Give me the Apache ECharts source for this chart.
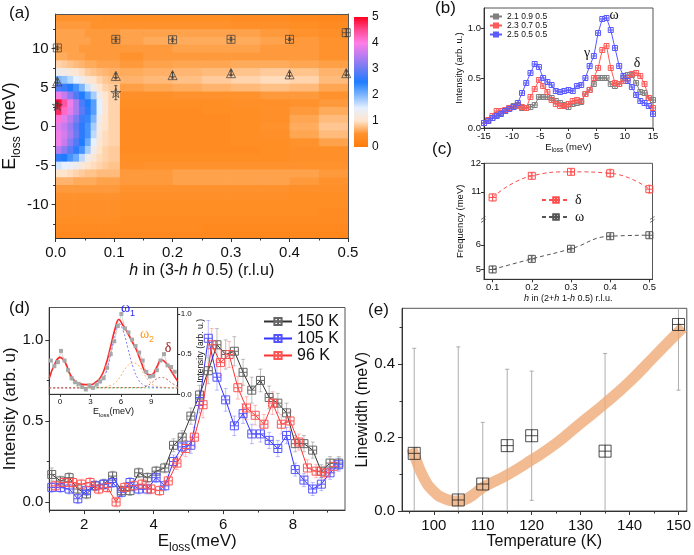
<!DOCTYPE html>
<html><head><meta charset="utf-8">
<script src="https://cdn.jsdelivr.net/npm/echarts@6/dist/echarts.min.js"></script>
<style>html,body{margin:0;padding:0;background:#fff}#c{width:694px;height:555px}</style>
</head><body><div id="c"></div>
<script>
// ================= DATA =================
// (a) intensity map: column centres (h), row centres (E, meV), values
const hmX = [0.005,0.015,0.025,0.035,0.045,0.055,0.065,0.075,0.085,0.095,0.125,0.175,0.225,0.275,0.325,0.375,0.425,0.475];
const hmY = [14,13,12,11,10,9,8,7,6,5,4,3,2,1,0,-1,-2,-3,-4,-5,-6,-7,-8,-9,-10,-11,-12,-13,-14];
const hmZ = [
 [0.5,0.5,0.5,0.5,0.5,0.5,0.5,0.5,0.45,0.45, 0.4,0.4,0.4,0.4,0.35,0.35,0.3,0.25],
 [0.55,0.55,0.55,0.55,0.55,0.55,0.5,0.5,0.5,0.5, 0.5,0.5,0.5,0.5,0.45,0.45,0.4,0.35],
 [0.6,0.6,0.6,0.6,0.6,0.55,0.55,0.55,0.55,0.55, 0.6,0.6,0.6,0.6,0.6,0.55,0.5,0.45],
 [0.6,0.6,0.6,0.6,0.6,0.6,0.55,0.55,0.55,0.55, 0.6,0.65,0.65,0.65,0.65,0.6,0.55,0.5],
 [0.6,0.6,0.6,0.6,0.55,0.55,0.55,0.55,0.55,0.55, 0.55,0.55,0.6,0.6,0.6,0.55,0.55,0.5],
 [0.65,0.65,0.6,0.6,0.6,0.55,0.55,0.55,0.55,0.55, 0.5,0.55,0.55,0.55,0.55,0.55,0.55,0.5],
 [0.9,0.85,0.8,0.75,0.7,0.65,0.65,0.6,0.6,0.6, 0.55,0.6,0.62,0.62,0.65,0.65,0.62,0.58],
 [1.3,1.25,1.15,1.05,0.95,0.85,0.8,0.75,0.72,0.68, 0.65,0.68,0.72,0.75,0.8,0.85,0.8,0.7],
 [2.0,1.9,1.7,1.5,1.3,1.1,1.0,0.9,0.82,0.78, 0.7,0.74,0.78,0.85,0.9,0.95,0.9,0.75],
 [2.8,2.7,2.5,2.3,2.0,1.6,1.3,1.05,0.9,0.85, 0.58,0.62,0.66,0.7,0.74,0.78,0.74,0.62],
 [3.9,3.6,3.2,2.8,2.5,2.2,1.8,1.3,1.0,0.9, 0.45,0.45,0.5,0.5,0.5,0.55,0.55,0.5],
 [4.9,4.4,3.9,3.4,2.8,2.5,2.2,1.5,1.05,0.9, 0.4,0.4,0.4,0.4,0.45,0.45,0.5,0.55],
 [4.7,4.2,3.8,3.4,2.9,2.6,2.2,1.5,1.05,0.9, 0.35,0.35,0.35,0.4,0.4,0.45,0.55,0.65],
 [4.1,3.8,3.5,3.1,2.7,2.4,2.0,1.3,1.0,0.9, 0.35,0.35,0.35,0.35,0.4,0.45,0.62,0.75],
 [3.8,3.6,3.3,2.9,2.6,2.3,1.8,1.2,1.0,0.9, 0.35,0.35,0.35,0.35,0.4,0.5,0.66,0.82],
 [3.9,3.7,3.4,3.0,2.6,2.3,1.7,1.15,0.95,0.9, 0.35,0.35,0.35,0.35,0.4,0.45,0.62,0.75],
 [3.9,3.6,3.2,2.8,2.5,2.1,1.5,1.1,0.95,0.9, 0.35,0.35,0.35,0.35,0.4,0.4,0.5,0.6],
 [3.5,3.2,2.9,2.6,2.3,1.8,1.3,1.0,0.9,0.85, 0.35,0.35,0.35,0.35,0.35,0.4,0.45,0.45],
 [2.6,2.5,2.3,2.1,1.7,1.3,1.1,0.95,0.9,0.85, 0.4,0.4,0.4,0.4,0.4,0.4,0.45,0.45],
 [1.6,1.5,1.4,1.3,1.15,1.0,0.95,0.9,0.85,0.8, 0.45,0.5,0.5,0.5,0.5,0.5,0.5,0.5],
 [1.0,1.0,0.95,0.9,0.85,0.8,0.8,0.75,0.75,0.75, 0.55,0.55,0.6,0.6,0.6,0.6,0.6,0.55],
 [0.7,0.7,0.7,0.65,0.65,0.65,0.65,0.6,0.6,0.6, 0.55,0.55,0.6,0.6,0.6,0.6,0.55,0.5],
 [0.55,0.55,0.55,0.55,0.55,0.55,0.55,0.55,0.55,0.55, 0.5,0.5,0.5,0.5,0.5,0.5,0.45,0.45],
 [0.5,0.5,0.5,0.5,0.5,0.5,0.5,0.5,0.5,0.5, 0.45,0.45,0.45,0.45,0.45,0.45,0.4,0.4],
 [0.45,0.45,0.45,0.45,0.45,0.45,0.45,0.45,0.45,0.45, 0.4,0.4,0.4,0.4,0.4,0.4,0.4,0.4],
 [0.45,0.45,0.45,0.45,0.45,0.45,0.45,0.45,0.45,0.45, 0.4,0.4,0.4,0.4,0.4,0.4,0.4,0.35],
 [0.4,0.4,0.4,0.4,0.4,0.4,0.4,0.4,0.4,0.4, 0.35,0.35,0.35,0.35,0.35,0.35,0.35,0.35],
 [0.35,0.35,0.35,0.35,0.35,0.35,0.35,0.35,0.35,0.35, 0.35,0.35,0.35,0.3,0.3,0.3,0.3,0.3],
 [0.3,0.3,0.3,0.3,0.3,0.3,0.3,0.3,0.3,0.3, 0.3,0.3,0.3,0.3,0.25,0.25,0.25,0.25]
];
const cbTicks = [0,1,2,3,4,5];
const aSqH = [0.003,0.103,0.2,0.3,0.4,0.497];
const aSqE = [10.1,11.2,11.15,11.2,11.2,12.05];
const aSqErr = [0.2,0.25,0.2,0.2,0.15,0.5];
const aTriH = [0.003,0.103,0.2,0.3,0.4,0.497];
const aTriE = [5.8,6.5,6.6,6.85,6.7,6.85];
const aTriErr = [0.2,0.3,0.35,0.3,0.25,0.3];
const aStarH = [0.003,0.103];
const aStarE = [2.7,4.35];
const aStarErr = [0.3,0.9];

// (b) spectra
const bX = [-15,-14.25,-13.5,-12.75,-12,-11.25,-10.5,-9.75,-9,-8.25,-7.5,-6.75,-6,-5.25,-4.5,-3.75,-3,-2.25,-1.5,-0.75,0,0.75,1.5,2.25,3,3.75,4.5,5.25,6,6.75,7.5,8.25,9,9.75,10.5,11.25,12,12.75,13.5,14.25,15];
const bGray = [0.05,0.07,0.10,0.13,0.15,0.17,0.20,0.22,0.23,0.20,0.20,0.21,0.23,0.31,0.31,0.31,0.30,0.27,0.25,0.23,0.21,0.24,0.25,0.26,0.34,0.38,0.44,0.50,0.50,0.50,0.44,0.42,0.44,0.50,0.53,0.53,0.45,0.36,0.35,0.30,0.28];
const bRed = [0.05,0.08,0.12,0.17,0.17,0.18,0.20,0.21,0.22,0.21,0.20,0.31,0.39,0.48,0.42,0.36,0.28,0.24,0.22,0.22,0.24,0.27,0.28,0.27,0.34,0.38,0.50,0.60,0.78,0.82,0.60,0.45,0.44,0.47,0.50,0.54,0.55,0.52,0.44,0.30,0.20];
const bBlue = [0.05,0.07,0.10,0.12,0.14,0.17,0.19,0.21,0.25,0.35,0.45,0.55,0.64,0.61,0.50,0.46,0.43,0.37,0.36,0.37,0.38,0.37,0.42,0.43,0.50,0.62,0.72,0.95,1.09,1.10,0.98,0.80,0.62,0.52,0.47,0.41,0.33,0.27,0.25,0.22,0.14];
const bNames = ['2.1 0.9 0.5','2.3 0.7 0.5','2.5 0.5 0.5'];

// (c) dispersion
const cH = [0.1,0.2,0.3,0.4,0.5];
const cDelta = [10.8,11.56,11.7,11.65,11.09];
const cDeltaErr = [0.12,0.08,0.08,0.15,0.15];
const cOmega = [5.0,5.43,5.84,6.35,6.39];
const cOmegaErr = [0.12,0.08,0.06,0.08,0.08];

// (d) temperature spectra
const dX = [1.07,1.32,1.57,1.82,2.07,2.32,2.57,2.82,3.07,3.32,3.57,3.82,4.07,4.32,4.57,4.82,5.07,5.32,5.57,5.82,6.07,6.32,6.57,6.82,7.07,7.32,7.57,7.82,8.07,8.32,8.57,8.82,9.07,9.32];
const d150 = [0.17,0.13,0.15,0.08,0.05,0.10,0.11,0.16,0.07,0.07,0.18,0.15,0.19,0.21,0.35,0.40,0.53,0.66,0.81,0.97,0.91,0.93,0.80,0.69,0.75,0.645,0.61,0.55,0.36,0.36,0.32,0.19,0.24,0.24];
const e150 = [0.04,0.03,0.03,0.03,0.03,0.03,0.03,0.03,0.03,0.03,0.03,0.03,0.03,0.03,0.04,0.04,0.05,0.06,0.08,0.10,0.09,0.09,0.08,0.08,0.07,0.07,0.06,0.06,0.05,0.05,0.05,0.04,0.04,0.04];
const d105 = [0.09,0.09,0.08,0.02,0.07,0.10,0.11,0.12,0.06,0.12,0.08,0.08,0.15,0.10,0.25,0.34,0.35,0.62,1.01,0.77,0.63,0.47,0.545,0.42,0.42,0.38,0.33,0.41,0.20,0.135,0.08,0.11,0.18,0.23];
const e105 = [0.03,0.03,0.03,0.03,0.03,0.03,0.03,0.03,0.03,0.03,0.03,0.03,0.03,0.03,0.04,0.05,0.05,0.07,0.11,0.08,0.07,0.06,0.06,0.06,0.05,0.05,0.05,0.05,0.04,0.04,0.04,0.04,0.04,0.04];
const dX96 = [1.17,1.42,1.67,1.92,2.17,2.42,2.67,2.92,3.17,3.42,3.67,3.92,4.17,4.42,4.67,4.92,5.17,5.42,5.67,5.92,6.17,6.42,6.67,6.92,7.17,7.42,7.67,7.92,8.17,8.42,8.67,8.92,9.17];
const d96 = [0.10,0.12,0.12,0.11,0.12,0.08,0.09,0.00,0.09,0.10,0.11,0.08,0.07,0.13,0.24,0.33,0.40,0.60,0.97,0.86,0.91,0.705,0.58,0.535,0.48,0.61,0.48,0.50,0.37,0.21,0.19,0.18,0.22];
const e96 = [0.03,0.03,0.03,0.03,0.03,0.03,0.03,0.03,0.03,0.03,0.03,0.03,0.03,0.03,0.04,0.05,0.06,0.08,0.10,0.08,0.08,0.07,0.07,0.06,0.06,0.07,0.06,0.06,0.05,0.05,0.04,0.04,0.04];
const dNames = ['150 K','105 K','96 K'];

// (d) inset
const inPtX = [-0.9,-0.55,-0.2,0.1,0.45,0.8,1.15,1.5,1.85,2.2,2.55,2.9,3.25,3.6,3.95,4.3,4.65,5.0,5.35,5.7,6.05,6.4,6.75,7.1,7.45,7.8,8.15,8.5,8.85,9.2,9.55,9.9,10.25,10.6,10.95,11.3];
const inPtY = [0.42,0.35,0.40,0.54,0.42,0.30,0.20,0.15,0.13,0.09,0.06,0.11,0.08,0.12,0.16,0.20,0.33,0.50,0.66,0.85,1.0,0.82,0.77,0.68,0.60,0.52,0.42,0.28,0.22,0.23,0.30,0.42,0.50,0.36,0.34,0.28];
const inFitX = [-1.05,-0.5,0,0.5,1,1.5,2,2.5,3,3.5,4,4.5,5,5.5,5.8,6.2,6.6,7,7.5,8,8.5,9,9.5,10,10.5,11,11.6];
const inFitY = [0.2,0.38,0.46,0.40,0.25,0.16,0.13,0.12,0.12,0.15,0.21,0.36,0.60,0.85,0.93,0.86,0.78,0.68,0.56,0.40,0.26,0.24,0.33,0.43,0.38,0.28,0.16];
const inW1X = [-1.05,2,3,3.5,4,4.5,5,5.5,5.8,6.2,6.7,7.2,7.7,8.2,9,11.6];
const inW1Y = [0.08,0.08,0.085,0.1,0.14,0.25,0.5,0.8,0.88,0.8,0.57,0.34,0.19,0.12,0.09,0.08];
const inW2X = [-1.05,4,5,5.5,6,6.5,7.2,7.8,8.3,8.8,9.5,10.5,11.6];
const inW2Y = [0.08,0.085,0.11,0.15,0.23,0.33,0.39,0.35,0.25,0.16,0.1,0.085,0.08];
const inDX = [-1.05,8,8.5,9,9.5,10,10.5,11,11.6];
const inDY = [0.08,0.085,0.1,0.14,0.19,0.21,0.19,0.14,0.1];
const inElX = [-1.05,-0.5,0,0.5,1,1.5,2,3,11.6];
const inElY = [0.2,0.37,0.45,0.38,0.22,0.12,0.09,0.08,0.08];

// (e) linewidth
const eT = [96,105,110,115,120,135,150];
const eW = [0.157,0.03,0.0735,0.178,0.205,0.163,0.508];
const eErr = [0.286,0.417,0.168,0.208,0.176,0.266,0.179];
const eFitT = [95.5,96,98,100,102,105,107,110,115,120,125,130,135,140,145,150,151];
const eFitW = [0.17,0.152,0.089,0.053,0.035,0.027,0.035,0.064,0.098,0.139,0.184,0.239,0.293,0.352,0.42,0.488,0.50];

// ================= STYLE / HELPERS =================
const FF = '"Liberation Sans", Arial, sans-serif';
const SF = '"Liberation Serif", "Times New Roman", serif';
const cStops = ['#FF7C0A','#FF922C','#FFE4CC','#E6F0FF','#7DB6FF','#1F7CFF','#6A7CF4','#B87CF0','#FF7EE6','#FF4A92','#FF0020'];
const SQ = 'path://M0,0L10,0L10,10L0,10Z M5,0L5,10 M0,5L10,5';
const TRI = 'path://M5,0L10,9L0,9Z M5,0L5,9 M2,6L8,6';
const STAR = 'path://M5,0L6.2,3.6L10,3.6L6.9,5.9L8.1,9.5L5,7.3L1.9,9.5L3.1,5.9L0,3.6L3.8,3.6Z M5,2L5,8 M2.5,5L7.5,5';
const zip = (xs, ys) => xs.map((x, i) => [x, ys[i]]);
const AX = '#333';

function mkAxis(grid, min, max, ticks, lab, extra) {
  return Object.assign({
    type: 'value', gridIndex: grid, min: min, max: max, splitLine: {show: false},
    axisLine: {show: true, onZero: false, lineStyle: {color: AX, width: 1}},
    axisTick: {show: true, length: 4, customValues: ticks, lineStyle: {color: AX}},
    axisLabel: lab ? Object.assign({show: true, customValues: ticks, color: '#111', fontFamily: FF}, lab) : {show: false}
  }, extra || {});
}
function minorAxis(grid, min, max, ticks, pos, len) {
  return {type: 'value', gridIndex: grid, min: min, max: max, position: pos,
    axisLine: {show: false, onZero: false}, splitLine: {show: false},
    axisTick: {show: true, length: len || 2.5, customValues: ticks, lineStyle: {color: AX}},
    axisLabel: {show: false}};
}
function frameAxis(grid, min, max, pos) {
  return {type: 'value', gridIndex: grid, min: min, max: max, position: pos, z: 5,
    axisLine: {show: true, onZero: false, lineStyle: {color: '#555'}},
    axisTick: {show: false}, axisLabel: {show: false}, splitLine: {show: false}};
}
function hiddenAxis(grid, min, max) {
  return {type: 'value', gridIndex: grid, min: min, max: max, show: false};
}
function subRich(fs, ss, pad) {
  return {a: {fontSize: fs, fontFamily: FF, color: '#111', verticalAlign: 'bottom', padding: [0, 0, pad, 0]},
          s: {fontSize: ss, fontFamily: FF, color: '#111', verticalAlign: 'bottom'}};
}
function itRich(fs) {
  return {i: {fontSize: fs, fontFamily: FF, fontStyle: 'italic', color: '#111'},
          n: {fontSize: fs, fontFamily: FF, color: '#111'}};
}
function errSeries(xi, yi, xs, ys, es, color, cap, lw) {
  return {type: 'custom', xAxisIndex: xi, yAxisIndex: yi, clip: true, silent: true, z: 3,
    data: xs.map((x, i) => [x, ys[i], es[i]]),
    encode: {x: 0, y: 1},
    renderItem: function (p, api) {
      const x = api.value(0), y = api.value(1), e = api.value(2);
      const a = api.coord([x, y + e]), b = api.coord([x, y - e]);
      const h = cap / 2, st = {stroke: color, lineWidth: lw || 1};
      return {type: 'group', children: [
        {type: 'line', shape: {x1: a[0], y1: a[1], x2: b[0], y2: b[1]}, style: st},
        {type: 'line', shape: {x1: a[0] - h, y1: a[1], x2: a[0] + h, y2: a[1]}, style: st},
        {type: 'line', shape: {x1: b[0] - h, y1: b[1], x2: b[0] + h, y2: b[1]}, style: st}]};
    }};
}
function markSeries(xi, yi, data, symbol, size, stroke, bw) {
  return {type: 'scatter', xAxisIndex: xi, yAxisIndex: yi, data: data, symbol: symbol, symbolSize: size, silent: true, z: 5,
    itemStyle: {color: 'rgba(255,255,255,0)', borderColor: stroke, borderWidth: bw || 1}};
}
function lineSeries(name, xi, yi, data, color, size, extra) {
  return Object.assign({name: name, type: 'line', xAxisIndex: xi, yAxisIndex: yi, data: data,
    symbol: SQ, symbolSize: size, showSymbol: true, silent: true, z: 4,
    lineStyle: {color: color, width: 1},
    itemStyle: {color: 'rgba(255,255,255,0)', borderColor: color, borderWidth: 1}}, extra || {});
}
function plainLine(xi, yi, data, color, width, type, smooth) {
  return {type: 'line', xAxisIndex: xi, yAxisIndex: yi, data: data, symbol: 'none', smooth: smooth, silent: true, z: 3,
    lineStyle: {color: color, width: width, type: type}};
}
function T(x, y, text, size, color, family, rich) {
  const st = {text: text, fontSize: size, fontFamily: family || FF, fill: color || '#111',
    align: 'center', verticalAlign: 'middle', textAlign: 'center', textVerticalAlign: 'middle'};
  if (rich) st.rich = rich;
  return {type: 'text', x: x, y: y, z: 50, style: st};
}

// heat map cell edges from centres
function edges(c, lo, hi) { const e = [lo]; for (let i = 0; i < c.length - 1; i++) e.push((c[i] + c[i + 1]) / 2); e.push(hi); return e; }
const aYmin = -14.3, aYmax = 14.45;
const xE = edges(hmX, 0, 0.5), yE = edges(hmY, aYmax, aYmin);
const heatData = [];
hmY.forEach((y, r) => hmX.forEach((x, c) => heatData.push([x, y, hmZ[r][c], c, r])));

// ================= OPTION =================
const grids = [
  {left: 49, top: 14, width: 299, height: 224},                     // 0 a
  {left: 354, top: 17, width: 14, height: 130},                     // 1 colorbar
  {left: 484, top: 8, width: 169, height: 120, show: true, borderColor: '#555', borderWidth: 1}, // 2 b
  {left: 484, top: 163.3, width: 168.5, height: 56.9},              // 3 c upper
  {left: 484, top: 220.2, width: 168.5, height: 59.1},              // 4 c lower
  {left: 49.3, top: 307.5, width: 295.7, height: 206.25, show: true, borderColor: '#555', borderWidth: 1}, // 5 d
  {left: 49.3, top: 307.5, width: 128.4, height: 86.8, show: true, borderColor: '#555', borderWidth: 1, backgroundColor: '#fff'}, // 6 inset
  {left: 402, top: 308.3, width: 290.5, height: 202.7, show: true, borderColor: '#555', borderWidth: 1}, // 7 e
  {left: 484, top: 163.3, width: 168.5, height: 116, show: true, borderColor: '#555', borderWidth: 1}  // 8 c frame
];

const xAxes = [
  mkAxis(0, 0, 0.5, [0,0.1,0.2,0.3,0.4,0.5], {fontSize: 15, margin: 7, formatter: v => v.toFixed(1)},
    {z: 5, position: 'bottom', name: '{i|h}{n| in (3-}{i|h}{n| }{i|h}{n| 0.5) (r.l.u)}', nameLocation: 'middle', nameGap: 25,
     nameTextStyle: {rich: itRich(16)}}),                                                   // 0
  Object.assign(minorAxis(0, 0, 0.5, [0.05,0.15,0.25,0.35,0.45], 'bottom'), {z: 5}),        // 1
  frameAxis(0, 0, 0.5, 'top'),                                                              // 2
  hiddenAxis(1, 0, 1),                                                                      // 3
  mkAxis(2, -15, 15, [-15,-10,-5,0,5,10,15], {fontSize: 9.5, margin: 3}, {position: 'bottom', axisTick: {show: true, length: 3, customValues: [-15,-10,-5,0,5,10,15], lineStyle: {color: AX}},
    name: '{a|E}{s|loss}{a| (meV)}', nameLocation: 'middle', nameGap: 12, nameTextStyle: {rich: subRich(9.5, 6.5, 2)}}), // 4
  hiddenAxis(3, 0.078, 0.508),                                                              // 5
  mkAxis(4, 0.078, 0.508, [0.1,0.2,0.3,0.4,0.5], {fontSize: 9.5, margin: 3, formatter: v => v.toFixed(1)},
    {position: 'bottom', axisTick: {show: true, length: 3, customValues: [0.1,0.2,0.3,0.4,0.5], lineStyle: {color: AX}},
     name: '{i|h}{n| in (2+}{i|h}{n| 1-}{i|h}{n| 0.5) r.l.u.}', nameLocation: 'middle', nameGap: 15, nameTextStyle: {rich: itRich(9)}}), // 6
  mkAxis(5, 1, 9.5, [2,4,6,8], {fontSize: 15, margin: 7},
    {position: 'bottom', name: '{a|E}{s|loss}{a|(meV)}', nameLocation: 'middle', nameGap: 20, nameTextStyle: {rich: subRich(17, 12, 4)}}), // 7
  minorAxis(5, 1, 9.5, [1,3,5,7,9], 'bottom'),                                              // 8
  mkAxis(6, -1.05, 11.6, [0,3,6,9], {fontSize: 8, margin: 3},
    {position: 'bottom', axisTick: {show: true, length: 2.5, customValues: [0,3,6,9], lineStyle: {color: AX}},
     name: '{a|E}{s|loss}{a|(meV)}', nameLocation: 'middle', nameGap: 13, nameTextStyle: {rich: subRich(9, 6, 2)}}), // 9
  mkAxis(7, 93.5, 151.7, [100,110,120,130,140,150], {fontSize: 15, margin: 7},
    {position: 'bottom', name: 'Temperature (K)', nameLocation: 'middle', nameGap: 17, nameTextStyle: {fontSize: 16, fontFamily: FF, color: '#111'}}), // 10
  minorAxis(7, 93.5, 151.7, [95,105,115,125,135,145], 'bottom'),                            // 11
  hiddenAxis(8, 0, 1)                                                                       // 12
];

const yAxes = [
  mkAxis(0, aYmin, aYmax, [-10,-5,0,5,10], {fontSize: 15, margin: 7},
    {z: 5, position: 'left', name: '{a|E}{s|loss}{a| (meV)}', nameLocation: 'middle', nameRotate: 90, nameGap: 28,
     nameTextStyle: {rich: subRich(18, 12, 4)}}),                                          // 0
  Object.assign(minorAxis(0, aYmin, aYmax, [-12.5,-7.5,-2.5,2.5,7.5,12.5], 'left'), {z: 5}), // 1
  frameAxis(0, aYmin, aYmax, 'right'),                                                      // 2
  {type: 'value', gridIndex: 1, min: 0, max: 5, position: 'right', splitLine: {show: false},
   axisLine: {show: false}, axisTick: {show: false},
   axisLabel: {show: true, customValues: cbTicks, fontSize: 12, margin: 4, color: '#111', fontFamily: FF}}, // 3
  mkAxis(2, 0, 1.2, [0,0.5,1.0], {fontSize: 9.5, margin: 3, formatter: v => v.toFixed(1)},
    {position: 'left', axisTick: {show: true, length: 3, customValues: [0,0.5,1.0], lineStyle: {color: AX}},
     name: 'Intensity (arb. u.)', nameLocation: 'middle', nameRotate: 90, nameGap: 19, nameTextStyle: {fontSize: 9.5, fontFamily: FF, color: '#111'}}), // 4
  mkAxis(3, 10, 12, [11,12], {fontSize: 9.5, margin: 3},
    {position: 'left', axisTick: {show: true, length: 3, customValues: [11,12], lineStyle: {color: AX}}}), // 5
  mkAxis(4, 4.6, 7, [5,6], {fontSize: 9.5, margin: 3},
    {position: 'left', axisTick: {show: true, length: 3, customValues: [5,6], lineStyle: {color: AX}}}), // 6
  mkAxis(5, -0.05, 1.2, [0,0.5,1.0], {fontSize: 15, margin: 6, formatter: v => v.toFixed(1)},
    {position: 'left', name: 'Intensity (arb. u)', nameLocation: 'middle', nameRotate: 90, nameGap: 28,
     nameTextStyle: {fontSize: 17, fontFamily: FF, color: '#111'}}),                         // 7
  minorAxis(5, -0.05, 1.2, [0.25,0.75], 'left'),                                            // 8
  mkAxis(6, 0, 1.08, [0,0.5,1.0], {fontSize: 8, margin: 3, formatter: v => v.toFixed(1)},
    {position: 'right', axisTick: {show: true, length: 2.5, customValues: [0,0.5,1.0], lineStyle: {color: AX}},
     name: 'Intensity (arb. u.)', nameLocation: 'middle', nameRotate: 90, nameGap: 15, nameTextStyle: {fontSize: 8.5, fontFamily: FF, color: '#111'}}), // 9
  mkAxis(7, 0, 0.552, [0,0.2,0.4], {fontSize: 15, margin: 7, formatter: v => v.toFixed(1)},
    {position: 'left', name: 'Linewidth (meV)', nameLocation: 'middle', nameRotate: 90, nameGap: 26,
     nameTextStyle: {fontSize: 16, fontFamily: FF, color: '#111'}}),                         // 10
  minorAxis(7, 0, 0.552, [0.1,0.3,0.5], 'left'),                                            // 11
  {type: 'value', gridIndex: 8, min: 0, max: 1, position: 'left', axisLine: {show: false, onZero: false}, axisTick: {show: false},
   axisLabel: {show: false}, splitLine: {show: false},
   name: 'Frequency (meV)', nameLocation: 'middle', nameRotate: 90, nameGap: 19, nameTextStyle: {fontSize: 9.5, fontFamily: FF, color: '#111'}} // 12
];

const cbStops = cStops.map((c, i) => ({offset: i / (cStops.length - 1), color: c}));

const series = [
  // (a) heat map
  {type: 'custom', xAxisIndex: 0, yAxisIndex: 0, clip: true, silent: true, z: 1, data: heatData,
   encode: {x: 0, y: 1},
   renderItem: function (p, api) {
     const c = api.value(3), r = api.value(4);
     const p1 = api.coord([xE[c], yE[r]]), p2 = api.coord([xE[c + 1], yE[r + 1]]);
     return {type: 'rect', shape: {x: p1[0], y: p1[1], width: p2[0] - p1[0] + 0.7, height: p2[1] - p1[1] + 0.7},
       style: {fill: api.visual('color')}};
   }},
  // colour bar
  {type: 'custom', xAxisIndex: 3, yAxisIndex: 3, silent: true, data: [[0, 0]],
   renderItem: function (p, api) {
     const p1 = api.coord([0, 5]), p2 = api.coord([1, 0]);
     return {type: 'rect', shape: {x: p1[0], y: p1[1], width: p2[0] - p1[0], height: p2[1] - p1[1]},
       style: {fill: new echarts.graphic.LinearGradient(0, 1, 0, 0, cbStops)}};
   }},
  errSeries(0, 0, aSqH, aSqE, aSqErr, '#5a4a3a', 3),
  errSeries(0, 0, aTriH, aTriE, aTriErr, '#5a4a3a', 3),
  errSeries(0, 0, aStarH, aStarE, aStarErr, '#5a4a3a', 3),
  markSeries(0, 0, zip(aSqH, aSqE), SQ, 8, '#3d3d3d', 0.9),
  markSeries(0, 0, zip(aTriH, aTriE), TRI, 9, '#3d3d3d', 0.9),
  markSeries(0, 0, zip(aStarH, aStarE), STAR, 10, '#3d3d3d', 0.9),

  // (b)
  lineSeries(bNames[0], 4, 4, zip(bX, bGray), '#808080', 5),
  lineSeries(bNames[1], 4, 4, zip(bX, bRed), '#FF5A5A', 5),
  lineSeries(bNames[2], 4, 4, zip(bX, bBlue), '#5A5AFF', 5),

  // (c)
  errSeries(5, 5, cH, cDelta, cDeltaErr, 'rgba(255,90,90,0.5)', 3),
  errSeries(6, 6, cH, cOmega, cOmegaErr, 'rgba(90,90,90,0.5)', 3),
  lineSeries('δ', 5, 5, zip(cH, cDelta), '#FF4D4D', 7, {smooth: true, lineStyle: {color: '#FF4D4D', width: 1, type: [4, 3]}}),
  lineSeries('ω', 6, 6, zip(cH, cOmega), '#555555', 7, {smooth: true, lineStyle: {color: '#555555', width: 1, type: [4, 3]}}),

  // (d) main
  errSeries(7, 7, dX, d150, e150, 'rgba(120,120,120,0.45)', 4),
  errSeries(7, 7, dX, d105, e105, 'rgba(90,90,255,0.4)', 4),
  errSeries(7, 7, dX96, d96, e96, 'rgba(255,90,90,0.4)', 4),
  lineSeries(dNames[0], 7, 7, zip(dX, d150), '#333333', 8, {itemStyle: {color: 'rgba(255,255,255,0)', borderColor: '#666', borderWidth: 1}}),
  lineSeries(dNames[1], 7, 7, zip(dX, d105), '#3333FF', 8, {itemStyle: {color: 'rgba(255,255,255,0)', borderColor: '#5555FF', borderWidth: 1}}),
  lineSeries(dNames[2], 7, 7, zip(dX96, d96), '#FF3333', 8, {itemStyle: {color: 'rgba(255,255,255,0)', borderColor: '#FF5555', borderWidth: 1}}),

  // (d) inset
  {type: 'line', xAxisIndex: 9, yAxisIndex: 9, data: zip(inPtX, inPtY), symbol: 'rect', symbolSize: 4, silent: true, z: 3,
   lineStyle: {color: '#c8c8c8', width: 0.8}, itemStyle: {color: '#a8a8a8'}},
  plainLine(9, 9, zip(inElX, inElY), '#55BB55', 0.9, [2, 2], true),
  plainLine(9, 9, zip(inW1X, inW1Y), '#6E6EFF', 0.9, [2, 2], true),
  plainLine(9, 9, zip(inW2X, inW2Y), '#FFA64D', 0.9, [2, 2], true),
  plainLine(9, 9, zip(inDX, inDY), '#C05050', 0.9, [2, 2], true),
  plainLine(9, 9, zip(inFitX, inFitY), '#FF2A2A', 1.6, 'solid', true),

  // (e)
  plainLine(10, 10, zip(eFitT, eFitW), 'rgba(240,168,115,0.78)', 11, 'solid', true),
  errSeries(10, 10, eT, eW, eErr, '#9a9a9a', 4, 0.8),
  markSeries(10, 10, zip(eT, eW), SQ, 12, '#222', 1)
];

const graphic = [
  T(19.5, 13.5, '(a)', 17), T(445.5, 8.5, '(b)', 17), T(442, 149.5, '(c)', 17),
  T(19.5, 308.5, '(d)', 17), T(378.5, 310.5, '(e)', 17),
  T(614, 15, 'ω', 14, '#111', SF), T(587, 53, 'γ', 14, '#111', SF), T(637, 63, 'δ', 14, '#111', SF),
  T(128, 310, '{w|ω}{n|1}', 13, '#2323FF', SF, {w: {fontSize: 14, fontFamily: SF, fill: '#2323FF', verticalAlign: 'bottom', padding: [0, 0, 3, 0]}, n: {fontSize: 9, fontFamily: FF, fill: '#2323FF', verticalAlign: 'bottom'}}),
  T(147, 336, '{w|ω}{n|2}', 13, '#FF9A1A', SF, {w: {fontSize: 14, fontFamily: SF, fill: '#FF9A1A', verticalAlign: 'bottom', padding: [0, 0, 3, 0]}, n: {fontSize: 9, fontFamily: FF, fill: '#FF9A1A', verticalAlign: 'bottom'}}),
  T(168, 348, 'δ', 14, '#9A1010', SF),
  {type: 'group', z: 50, children: [
    {type: 'line', shape: {x1: 481, y1: 219.5, x2: 485.5, y2: 216.5}, style: {stroke: '#555', lineWidth: 0.8}},
    {type: 'line', shape: {x1: 481, y1: 222.5, x2: 485.5, y2: 219.5}, style: {stroke: '#555', lineWidth: 0.8}},
    {type: 'line', shape: {x1: 650, y1: 219.5, x2: 654.5, y2: 216.5}, style: {stroke: '#555', lineWidth: 0.8}},
    {type: 'line', shape: {x1: 650, y1: 222.5, x2: 654.5, y2: 219.5}, style: {stroke: '#555', lineWidth: 0.8}}
  ]}
];

const option = {
  animation: false,
  backgroundColor: '#fff',
  grid: grids,
  xAxis: xAxes,
  yAxis: yAxes,
  visualMap: [{type: 'continuous', show: false, min: 0, max: 5, dimension: 2, seriesIndex: 0, inRange: {color: cStops}}],
  legend: [
    {data: bNames, left: 489, top: 12, orient: 'vertical', itemWidth: 12, itemHeight: 5, itemGap: 0, padding: 0,
     textStyle: {fontSize: 8.5, lineHeight: 8, fontFamily: FF, color: '#111'}, selectedMode: false},
    {data: ['δ', 'ω'], left: 541, top: 193, orient: 'vertical', itemWidth: 28, itemHeight: 7, itemGap: 3, padding: 0,
     textStyle: {fontSize: 14, lineHeight: 14, fontFamily: SF, color: '#111'}, selectedMode: false},
    {data: dNames, left: 263, top: 313, orient: 'vertical', itemWidth: 28, itemHeight: 9, itemGap: 0, padding: 0,
     textStyle: {fontSize: 16, lineHeight: 17, fontFamily: FF, color: '#111'}, selectedMode: false}
  ],
  series: series,
  graphic: graphic
};

const chart = echarts.init(document.getElementById('c'), null, {renderer: 'canvas', width: 694, height: 555});
chart.setOption(option);
</script>
</body></html>
